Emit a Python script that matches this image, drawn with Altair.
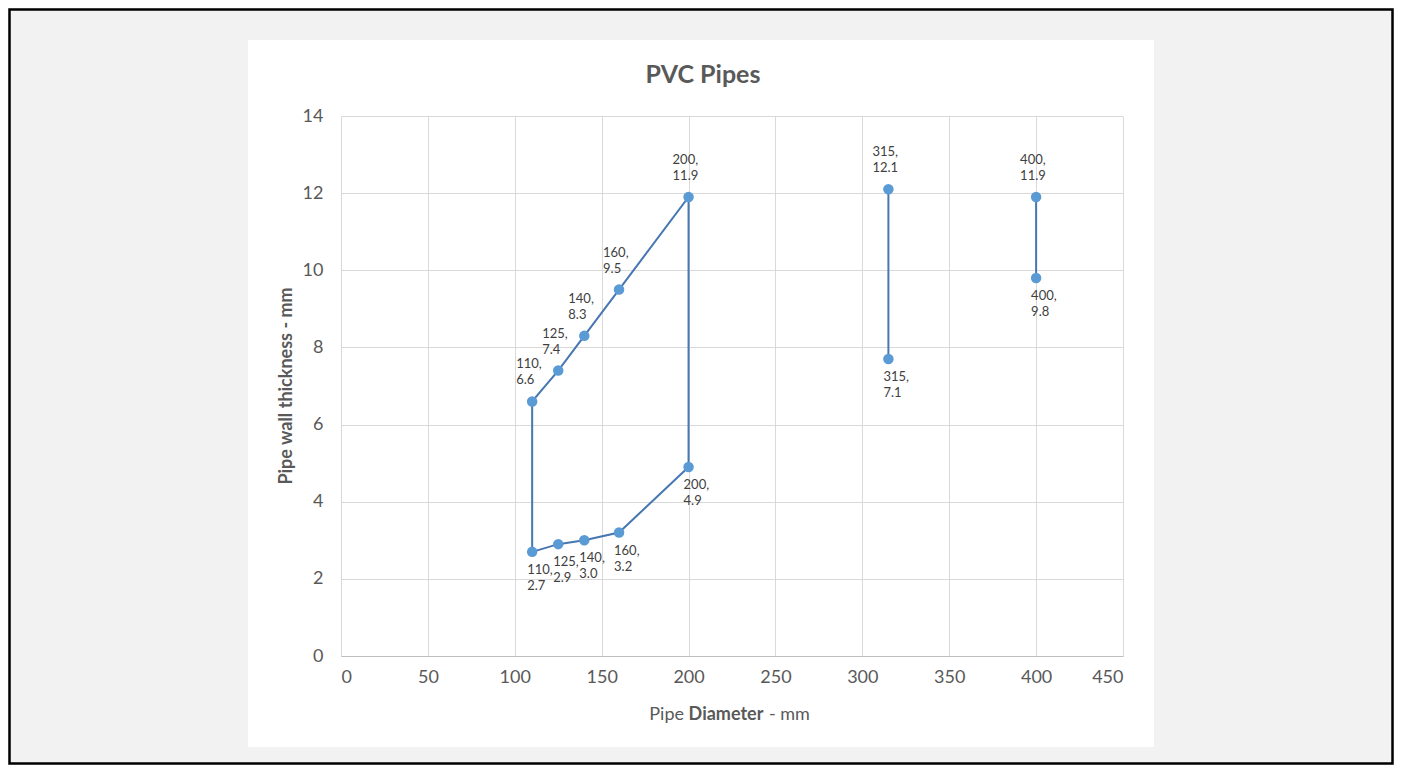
import altair as alt
import pandas as pd

# ---- data ----
loop_x = [110, 125, 140, 160, 200, 200, 160, 140, 125, 110, 110]
loop_y = [2.7, 2.9, 3.0, 3.2, 4.9, 11.9, 9.5, 8.3, 7.4, 6.6, 2.7]
s315_x = [315, 315]
s315_y = [12.1, 7.7]
s400_x = [400, 400]
s400_y = [11.9, 9.8]

point_x = [110, 125, 140, 160, 200, 110, 125, 140, 160, 200, 315, 315, 400, 400]
point_y = [6.6, 7.4, 8.3, 9.5, 11.9, 2.7, 2.9, 3.0, 3.2, 4.9, 12.1, 7.7, 11.9, 9.8]
label_val = ["6.6", "7.4", "8.3", "9.5", "11.9", "2.7", "2.9", "3.0", "3.2", "4.9",
             "12.1", "7.1", "11.9", "9.8"]
label_side = ["above"] * 5 + ["below"] * 5 + ["above", "below", "above", "below"]

x_ticks = [0, 50, 100, 150, 200, 250, 300, 350, 400, 450]
y_ticks = [0, 2, 4, 6, 8, 10, 12, 14]

title_text = "PVC Pipes"
y_title = "Pipe wall thickness - mm"
x_title_parts = ["Pipe", "Diameter", "- mm"]

# ---- tables ----
lines = pd.DataFrame({
    "x": loop_x + s315_x + s400_x,
    "y": loop_y + s315_y + s400_y,
    "series": ["loop"] * len(loop_x) + ["315"] * 2 + ["400"] * 2,
    "seq": list(range(len(loop_x))) + [0, 1] + [0, 1],
})
pts = pd.DataFrame({
    "x": point_x,
    "y": point_y,
    "label": [f"{a},\n{b}" for a, b in zip(point_x, label_val)],
    "side": label_side,
})

FONT = "Lato"
GREY = "#595959"
W, H = 782, 540
PAD = {"left": 333, "top": 108, "right": 271, "bottom": 109}

xs = alt.Scale(domain=[0, 450], nice=False, zero=True)
ys = alt.Scale(domain=[0, 14], nice=False, zero=True)

x_axis = alt.Axis(values=x_ticks, title=None, grid=True, gridColor="#d9d9d9",
                  ticks=False, domain=True, domainColor="#bfbfbf", labelFont=FONT,
                  labelFontSize=18, labelColor=GREY, labelPadding=12, format="d")
y_axis = alt.Axis(values=y_ticks, title=None, grid=True, gridColor="#d9d9d9",
                  ticks=False, domain=False, labelFont=FONT, labelFontSize=18,
                  labelColor=GREY, labelPadding=18, format="d")

line_layer = alt.Chart(lines).mark_line(color="#4677B0", strokeWidth=2).encode(
    x=alt.X("x:Q", scale=xs, axis=x_axis),
    y=alt.Y("y:Q", scale=ys, axis=y_axis),
    detail="series:N",
    order="seq:Q",
)
point_layer = alt.Chart(pts).mark_circle(color="#5B9BD5", size=110, opacity=1).encode(
    x=alt.X("x:Q", scale=xs),
    y=alt.Y("y:Q", scale=ys),
)
above = alt.Chart(pts).transform_filter(alt.datum.side == "above").mark_text(
    align="left", baseline="top", dx=-16, dy=-43, lineBreak="\n", lineHeight=16,
    font=FONT, fontSize=13, color="#404040"
).encode(x=alt.X("x:Q", scale=xs), y=alt.Y("y:Q", scale=ys), text="label:N")
below = alt.Chart(pts).transform_filter(alt.datum.side == "below").mark_text(
    align="left", baseline="top", dx=-5, dy=12, lineBreak="\n", lineHeight=16,
    font=FONT, fontSize=13, color="#404040"
).encode(x=alt.X("x:Q", scale=xs), y=alt.Y("y:Q", scale=ys), text="label:N")

# ---- decoration: grey surround, white chart panel, outer border ----
BG = "#f2f2f2"
def strip(x0, x1, y0, y1):
    return alt.Chart(pd.DataFrame({"k": [0]})).mark_rect(color=BG).encode(
        x=alt.value(x0), x2=alt.value(x1), y=alt.value(y0), y2=alt.value(y1))

L, R, T, B = -PAD["left"], W + PAD["right"], -PAD["top"], H + PAD["bottom"]
px0, px1, py0, py1 = -93, 813, -76, 631
deco = [
    strip(L, px0, T, B), strip(px1, R, T, B),
    strip(px0, px1, T, py0), strip(px0, px1, py1, B),
]
border = alt.Chart(pd.DataFrame({"k": [0]})).mark_rect(
    fill=None, stroke="black", strokeWidth=2.5, fillOpacity=0).encode(
    x=alt.value(L + 1.5), x2=alt.value(R - 1.5), y=alt.value(T + 1.5), y2=alt.value(B - 1.5))

def text_at(txt, x, y, size, weight="normal", align="center", angle=0):
    return alt.Chart(pd.DataFrame({"t": [txt]})).mark_text(
        font=FONT, fontSize=size, fontWeight=weight, color=GREY, align=align,
        baseline="middle", angle=angle).encode(
        x=alt.value(x), y=alt.value(y), text="t:N")

titles = [
    text_at(title_text, 362, -41, 25, "bold"),
    text_at(y_title, -54, 270, 18, "bold", angle=270),
    text_at(x_title_parts[0], 343, 599, 18, "normal", align="right"),
    text_at(x_title_parts[1], 385, 599, 18, "bold"),
    text_at(x_title_parts[2], 428, 599, 18, "normal", align="left"),
]

chart = alt.layer(*deco, border, line_layer, point_layer, above, below, *titles).properties(
    width=W, height=H, padding=PAD, autosize=alt.AutoSizeParams(type="none"),
).configure(background="white").configure_view(stroke=None)

chart.save("out.html", embed_options={"renderer": "svg", "actions": False})
